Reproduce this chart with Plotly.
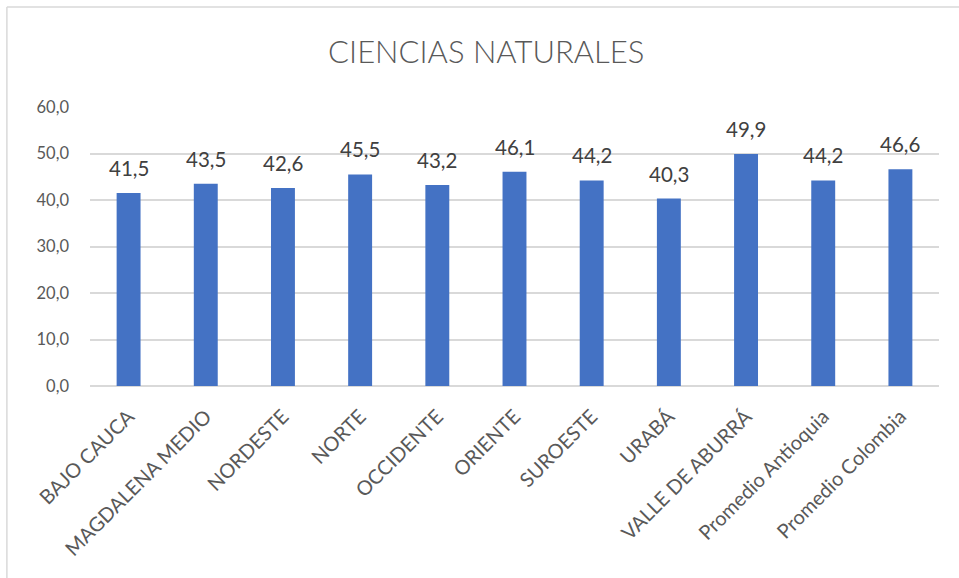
import plotly.graph_objects as go

categories = ["BAJO CAUCA", "MAGDALENA MEDIO", "NORDESTE", "NORTE", "OCCIDENTE",
              "ORIENTE", "SUROESTE", "URABÁ", "VALLE DE ABURRÁ",
              "Promedio Antioquia", "Promedio Colombia"]
values = [41.5, 43.5, 42.6, 45.5, 43.2, 46.1, 44.2, 40.3, 49.9, 44.2, 46.6]
y_ticks = [0, 10, 20, 30, 40, 50, 60]

FONT = "Lato"
TXT = "#595959"

fig = go.Figure()
fig.add_trace(go.Bar(x=categories, y=values, marker_color="#4472C4",
                     marker_line_width=0, width=0.31, hoverinfo="skip"))

for c, v in zip(categories, values):
    fig.add_annotation(x=c, y=v, text=f"{v:.1f}".replace(".", ","),
                       showarrow=False, yanchor="bottom", yshift=11,
                       font=dict(family=FONT, size=20.5, color="#404040"))

# chart frame (top and left edges visible)
fig.add_shape(type="line", xref="paper", yref="paper",
              x0=-0.0979, x1=1.03, y0=1.3584, y1=1.3584,
              line=dict(color="#D9D9D9", width=1.5), layer="below")
fig.add_shape(type="line", xref="paper", yref="paper",
              x0=-0.0979, x1=-0.0979, y0=1.3584, y1=-0.75,
              line=dict(color="#D9D9D9", width=1.5), layer="below")

fig.update_layout(
    width=959, height=578,
    margin=dict(l=90, r=20, t=107, b=192),
    paper_bgcolor="white", plot_bgcolor="white",
    separators=",.",
    showlegend=False,
    title=dict(text="CIENCIAS NATURALES", x=0.507, xanchor="center",
               y=0.91, yanchor="middle",
               font=dict(family=FONT, size=31, color=TXT, weight=300)),
    xaxis=dict(tickangle=-45, tickfont=dict(family=FONT, size=20, color=TXT),
               showgrid=False, showline=False, ticks="", automargin=False),
    yaxis=dict(range=[0, 60], tickvals=y_ticks, tickformat=".1f",
               tickfont=dict(family=FONT, size=16.5, color=TXT),
               showgrid=True, gridcolor="#D9D9D9", gridwidth=1.5,
               zeroline=True, zerolinecolor="#D9D9D9", zerolinewidth=1.5,
               showline=False, ticks="", automargin=False),
)
fig.update_yaxes(ticklabelstandoff=20)
fig.update_xaxes(ticklabelstandoff=14)

fig.write_html("out.html", config={"displayModeBar": False},
               post_script="document.body.style.margin='0px';")
